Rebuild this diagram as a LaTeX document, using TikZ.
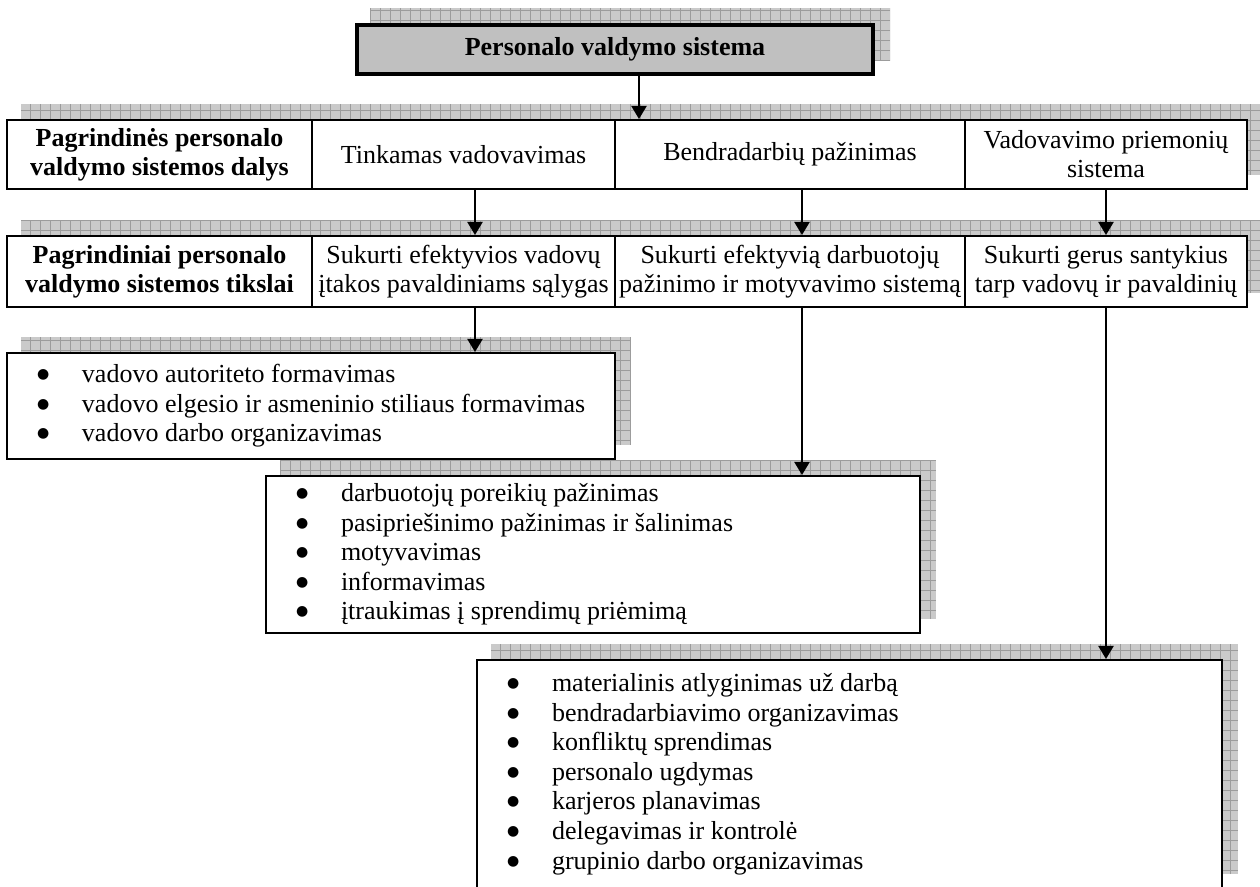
\documentclass[tikz,border=0pt]{standalone}
\usepackage{fontspec}
\setmainfont{Liberation Serif}
\newfontfamily\symfont{DejaVu Sans}
\usetikzlibrary{arrows.meta,calc}
\pgfdeclarelayer{background}
\pgfsetlayers{background,main}

\definecolor{shadebase}{HTML}{CACACA}
\definecolor{shadegrid}{HTML}{9C9C9C}
\definecolor{headfill}{HTML}{C0C0C0}

% hatched drop shadow behind the box(es) from node #1 (lower left) to node #2 (upper right)
\newcommand\gridshadow[2]{%
  \begin{scope}
    \path ([shift={(15,-15)}]#1.south west) coordinate (shsw)
          ([shift={(15,-15)}]#2.north east) coordinate (shne);
    \clip (shsw) rectangle (shne);
    \fill[shadebase] (shsw) rectangle (shne);
    \draw[shadegrid, line width=0.4pt, xstep=5pt, ystep=5pt] (shsw) grid (shne);
  \end{scope}}

% list bullet with its indent
\newcommand\bul{\hspace*{15pt}\makebox[22.5pt][l]{\raisebox{2pt}{\symfont\fontsize{7}{7}\selectfont ●}}}

\newcommand\basefont{\fontsize{13}{14.5}\selectfont}
\newcommand\listfont{\fontsize{13}{14.8}\selectfont}

\tikzset{
  cell/.style={draw, line width=1pt, fill=white, inner sep=0pt, align=center},
  boldcell/.style={cell, font=\basefont\bfseries},
  headbox/.style={draw, line width=2pt, fill=headfill, inner sep=0pt,
    font=\basefont\bfseries},
  listbox/.style={draw, line width=1pt, fill=white, inner sep=0pt,
    align=flush left, font=\listfont},
  arr/.style={line width=1pt, -{Triangle[width=7.5pt,length=6.5pt]}},
}

\begin{document}
\begin{tikzpicture}[x=0.5pt, y=-0.5pt, font=\basefont]
\useasboundingbox (0,0) rectangle (1260,887);

% title
\node[headbox, minimum width=258pt, minimum height=24.5pt] (top) at (615,49.5)
  {Personalo valdymo sistema};

% first row: parts of the system
\node[boldcell, minimum width=152.5pt, minimum height=34.5pt] (r1a) at (159.5,154.5)
  {Pagrindinės personalo\\valdymo sistemos dalys};
\node[cell, minimum width=151.5pt, minimum height=34.5pt] (r1b) at (463.5,154.5)
  {Tinkamas vadovavimas};
\node[cell, minimum width=175pt, minimum height=34.5pt] (r1c) at (790,154.5)
  {Bendradarbių pažinimas};
\node[cell, minimum width=141pt, minimum height=34.5pt] (r1d) at (1106,154.5)
  {Vadovavimo priemonių\\sistema};

% second row: goals
\node[boldcell, minimum width=152.5pt, minimum height=35.5pt] (r2a) at (159.5,271.5)
  {Pagrindiniai personalo\\valdymo sistemos tikslai};
\node[cell, minimum width=151.5pt, minimum height=35.5pt] (r2b) at (463.5,271.5)
  {Sukurti efektyvios vadovų\\įtakos pavaldiniams sąlygas};
\node[cell, minimum width=175pt, minimum height=35.5pt] (r2c) at (790,271.5)
  {Sukurti efektyvią darbuotojų\\pažinimo ir motyvavimo sistemą};
\node[cell, minimum width=141pt, minimum height=35.5pt] (r2d) at (1106,271.5)
  {Sukurti gerus santykius\\tarp vadovų ir pavaldinių};

% lists of measures
\node[listbox, minimum width=304pt, minimum height=53pt, text width=304pt] (la) at (311,406)
  {\bul vadovo autoriteto formavimas\\
   \bul vadovo elgesio ir asmeninio stiliaus formavimas\\
   \bul vadovo darbo organizavimas};
\node[listbox, minimum width=327pt, minimum height=78.5pt, text width=327pt] (lb) at (593,554.5)
  {\bul darbuotojų poreikių pažinimas\\
   \bul pasipriešinimo pažinimas ir šalinimas\\
   \bul motyvavimas\\
   \bul informavimas\\
   \bul įtraukimas į sprendimų priėmimą};
\node[listbox, minimum width=372.5pt, minimum height=114pt, text width=372.5pt] (lc) at (849.5,774)
  {\bul materialinis atlyginimas už darbą\\
   \bul bendradarbiavimo organizavimas\\
   \bul konfliktų sprendimas\\
   \bul personalo ugdymas\\
   \bul karjeros planavimas\\
   \bul delegavimas ir kontrolė\\
   \bul grupinio darbo organizavimas};

% shadows behind everything
\begin{pgfonlayer}{background}
  \gridshadow{top}{top}
  \gridshadow{r1a}{r1d}
  \gridshadow{r2a}{r2d}
  \gridshadow{la}{la}
  \gridshadow{lb}{lb}
  \gridshadow{lc}{lc}
\end{pgfonlayer}

% connectors
\coordinate (k0) at (639,0);
\coordinate (k1) at (475,0);
\coordinate (k2) at (802,0);
\draw[arr] (top.south -| k0) -- (r1c.north -| k0);
\draw[arr] (r1b.south -| k1) -- (r2b.north -| k1);
\draw[arr] (r1c.south -| k2) -- (r2c.north -| k2);
\draw[arr] (r1d.south) -- (r2d.north);
\draw[arr] (r2b.south -| k1) -- (la.north -| k1);
\draw[arr] (r2c.south -| k2) -- (lb.north -| k2);
\draw[arr] (r2d.south) -- (lc.north -| r2d.south);
\end{tikzpicture}
\end{document}
